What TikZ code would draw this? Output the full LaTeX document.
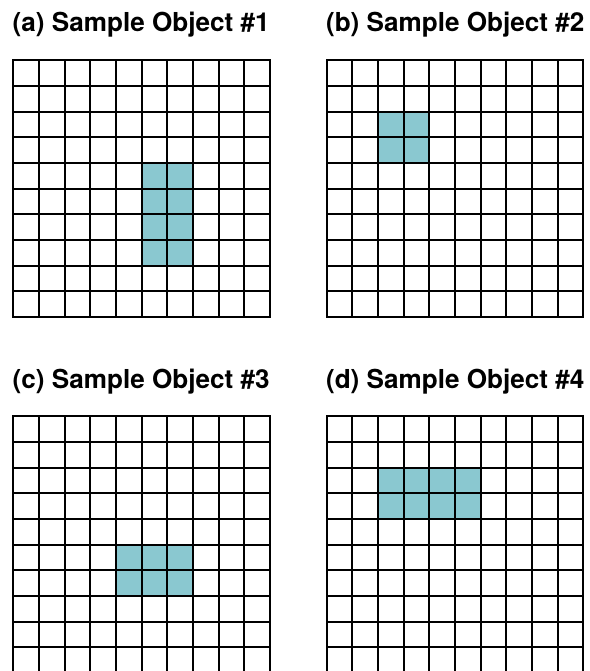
\documentclass[tikz,border=0pt]{standalone}
\usepackage{fontspec}
\setsansfont{TeX Gyre Heros}
\usepackage{tikz}
\usetikzlibrary{positioning}
\definecolor{cellteal}{RGB}{138,200,208}
\newcommand{\cellsz}{25.67}

\begin{document}
\begin{tikzpicture}[x=1pt,y=-1pt,
  every node/.style={font=\sffamily\bfseries\fontsize{26.1}{30}\selectfont,inner sep=0pt},
  gridline/.style={black,line width=2pt}]
\useasboundingbox (0,0) rectangle (589,671);
\foreach \px/\py/\lab/\num/\cells in {
  13.3/60.3/a/1/{5/4,6/4,5/5,6/5,5/6,6/6,5/7,6/7},
  326.7/60.3/b/2/{2/2,3/2,2/3,3/3},
  13.3/416.3/c/3/{4/5,5/5,6/5,4/6,5/6,6/6},
  326.7/416.3/d/4/{2/2,3/2,4/2,5/2,2/3,3/3,4/3,5/3}}{
  \node[anchor=base west] (title\lab) at (\px-0.8,\py-28.3) {(\lab) Sample Object \#\num};
  % shaded cells of the object
  \foreach \c/\r in \cells{
    \fill[cellteal] (\px+\c*\cellsz,\py+\r*\cellsz) rectangle ++(\cellsz,\cellsz);
  }
  \foreach \i in {1,...,9}{
    \draw[gridline] (\px+\i*\cellsz,\py) -- ++(0,10*\cellsz);
    \draw[gridline] (\px,\py+\i*\cellsz) -- ++(10*\cellsz,0);
  }
  \draw[gridline] (\px,\py) rectangle ++(10*\cellsz,10*\cellsz);
}
\end{tikzpicture}
\end{document}
